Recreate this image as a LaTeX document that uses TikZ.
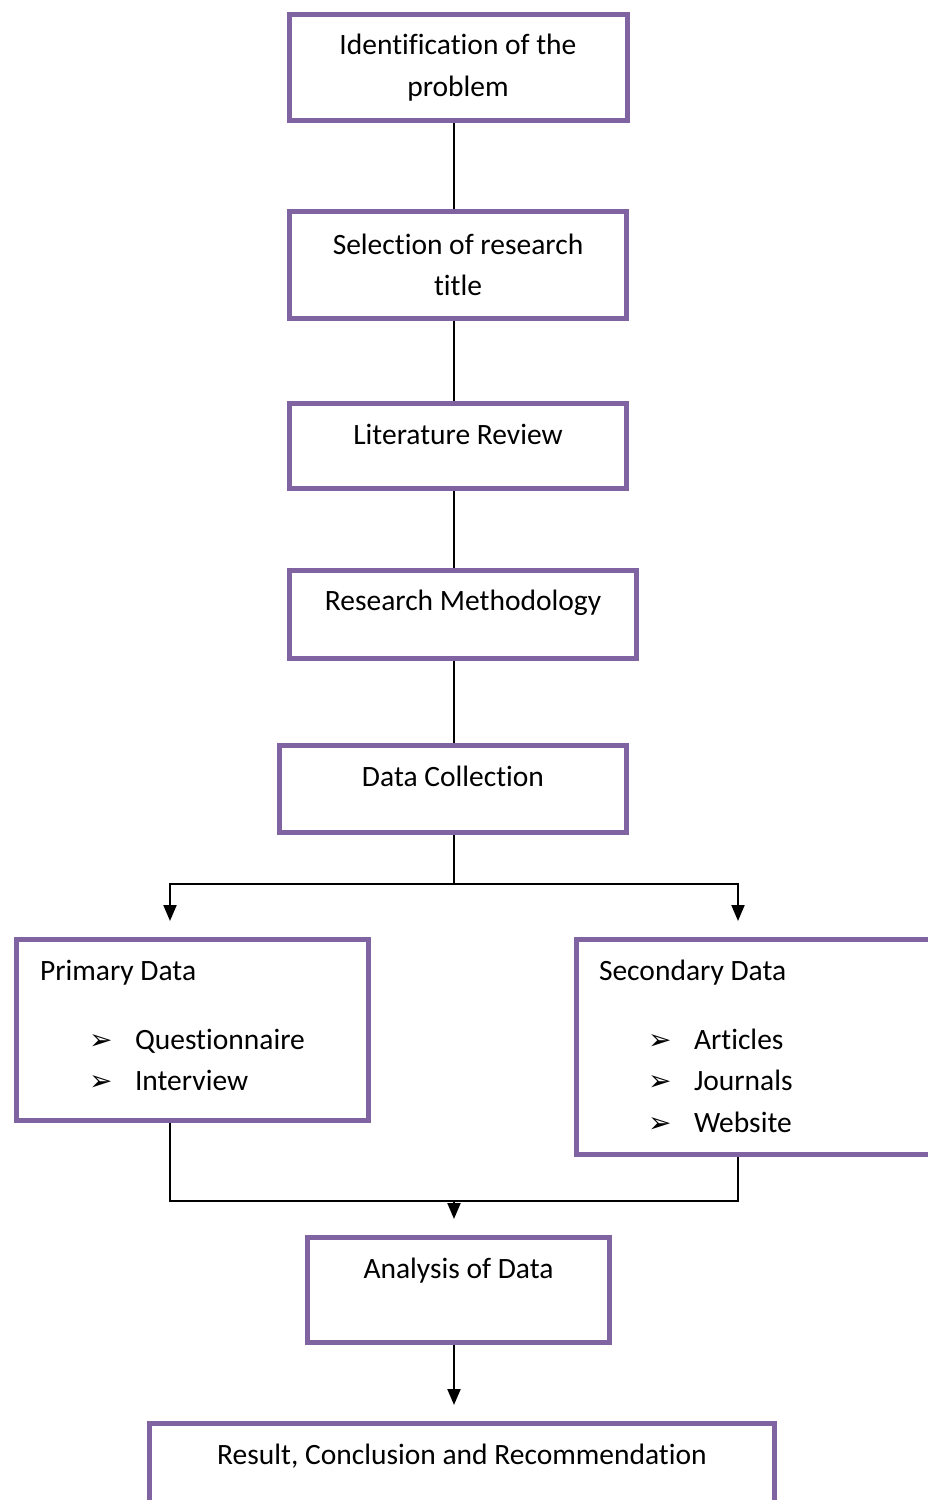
\documentclass[tikz,border=0pt]{standalone}
\usepackage{fontspec}
\setmainfont{Carlito}[Ligatures=NoCommon]
\newfontfamily\dingfont{DejaVu Sans}
\usetikzlibrary{arrows.meta,backgrounds}
\definecolor{boxpurple}{RGB}{128,100,162}
\tikzset{
  box/.style={draw=boxpurple,line width=5pt,fill=white,inner sep=0pt,align=center,
    font=\fontsize{29.5}{41.5}\selectfont},
  link/.style={line width=2pt},
  arr/.style={link,-{Triangle[width=13pt,length=16pt]},shorten >=16pt},
}
\newcommand{\pointer}{{\dingfont\fontsize{28}{28}\selectfont\char"27A2}}
\newcommand{\listentry}[1]{\hspace*{49pt}\makebox[46pt][l]{\pointer}#1}
\begin{document}
\begin{tikzpicture}[x=1pt,y=-1pt]
  \useasboundingbox (0,0) rectangle (928,1500);
  \clip (0,0) rectangle (928,1500);
  % steps of the main column
  \node[box,minimum width=338pt,minimum height=106pt] (ident) at (458,67.5) {Identification of the\\problem};
  \node[box,minimum width=337pt,minimum height=107pt] (select) at (458,265) {Selection of research\\title};
  \node[box,minimum width=337pt,minimum height=85pt,text height=18pt,text depth=21pt] (litrev) at (458,446) {Literature Review};
  \node[box,minimum width=347pt,minimum height=88pt,text height=18pt,text depth=26pt] (method) at (463,614.5) {Research Methodology};
  \node[box,minimum width=347pt,minimum height=87pt,text height=18pt,text depth=23pt] (collect) at (453,789) {Data Collection};
  % the two kinds of data
  \node[box,align=flush left,text width=305pt,minimum width=352pt,minimum height=181pt,
    text height=18pt,text depth=116.6pt] (primary) at (192.5,1030)
    {Primary Data\\[27pt]\listentry{Questionnaire}\\\listentry{Interview}};
  \node[box,align=flush left,text width=311.5pt,minimum width=356.5pt,minimum height=215pt,
    text height=18pt,text depth=150.6pt] (secondary) at (754.75,1047)
    {Secondary Data\\[27pt]\listentry{Articles}\\\listentry{Journals}\\\listentry{Website}};
  \node[box,minimum width=302pt,minimum height=105pt,text height=18pt,text depth=41pt] (analysis) at (458.5,1290) {Analysis of Data};
  \node[box,minimum width=625pt,minimum height=105pt,text height=18pt,text depth=41pt] (result) at (462,1476) {Result, Conclusion and Recommendation};
  % connectors
  \coordinate (spine) at (454,0);
  \coordinate (split) at (454,884);
  \coordinate (merge) at (454,1201);
  \coordinate (leftcol) at (170,0);
  \coordinate (rightcol) at (738,0);
  \begin{scope}[on background layer]
    \foreach \from/\to in {ident/select,select/litrev,litrev/method,method/collect}
      \draw[link] (\from.south -| spine) -- (\to.north -| spine);
    \draw[link] (collect.south -| spine) -- (split);
    \draw[arr] (split) -| (primary.north -| leftcol);
    \draw[arr] (split) -| (secondary.north -| rightcol);
    \draw[link] (primary.south -| leftcol) |- (merge) -| (secondary.south -| rightcol);
    \draw[arr] (merge) -- (analysis.north -| spine);
    \draw[arr] (analysis.south -| spine) -- (result.north -| spine);
  \end{scope}
\end{tikzpicture}
\end{document}
